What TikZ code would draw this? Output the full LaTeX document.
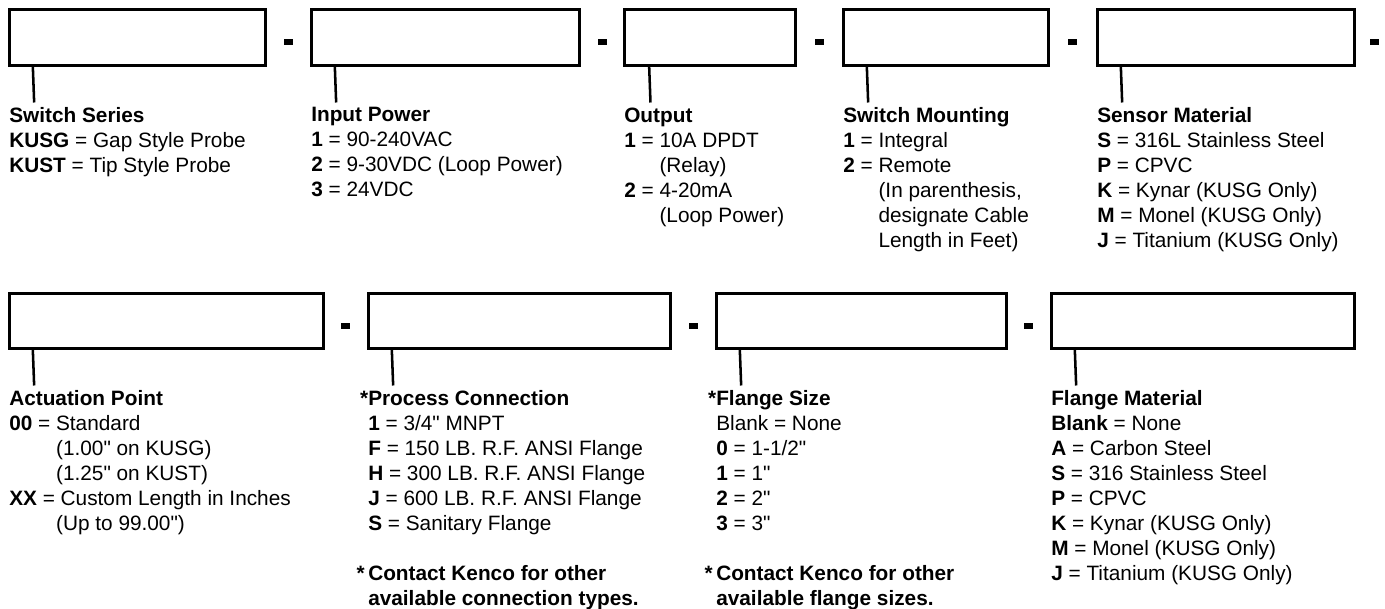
\documentclass[tikz,border=0pt]{standalone}
\usepackage{fontspec}
\setmainfont{Liberation Sans}
\newcommand{\keyskip}[1]{\phantom{\textbf{#1} = }}
\newcommand{\inch}{\textquotedbl}

\begin{document}
\begin{tikzpicture}[x=0.75pt, y=-0.75pt,
  every node/.style={font=\fontsize{15.6}{18.75}\selectfont},
  field/.style={draw, line width=2.25pt, inner sep=0pt, minimum height=41.5pt},
  sep/.style={fill=black, inner sep=0pt, minimum width=6.75pt, minimum height=5pt},
  legend/.style={anchor=north west, align=left, inner sep=0pt},
  lead/.style={line width=1.9pt, shorten >=3.6pt}]
  \useasboundingbox (0,0) rectangle (1385,609);
  \filldraw[fill=white, draw=none] (0,0) rectangle (1385,609);
  \node[field, minimum width=192pt] (series) at (137,37.5) {};
  \node[field, minimum width=201pt] (power) at (445,37.5) {};
  \node[field, minimum width=128.25pt] (output) at (709.5,37.5) {};
  \node[field, minimum width=153.75pt] (mounting) at (945.5,37.5) {};
  \node[field, minimum width=192.75pt] (sensor) at (1225.5,37.5) {};
  \node[sep] (sepA) at (288,42) {};
  \node[sep] (sepB) at (602,42) {};
  \node[sep] (sepC) at (819,42) {};
  \node[sep] (sepD) at (1072,42) {};
  \node[sep] (sepE) at (1374,42) {};
  \node[field, minimum width=235.5pt] (actuation) at (166,321) {};
  \node[field, minimum width=226.5pt] (process) at (519,321) {};
  \node[field, minimum width=217.5pt] (flsize) at (861,321) {};
  \node[field, minimum width=227.25pt] (flmat) at (1202.5,321) {};
  \node[sep] (sepF) at (345,326) {};
  \node[sep] (sepG) at (693,326) {};
  \node[sep] (sepH) at (1028,326) {};
  % legends, first row
  \node[legend] (seriestxt) at (9,107.3) {\textbf{Switch Series}\\ \textbf{KUSG} = Gap Style Probe\\ \textbf{KUST} = Tip Style Probe};
  \node[legend] (powertxt) at (311,107.3) {\textbf{Input Power}\\ \textbf{1} = 90-240VAC\\ \textbf{2} = 9-30VDC (Loop Power)\\ \textbf{3} = 24VDC};
  \node[legend] (outputtxt) at (624,107.3) {\textbf{Output}\\ \textbf{1} = 10A DPDT\\ \keyskip{1}(Relay)\\ \textbf{2} = 4-20mA\\ \keyskip{2}(Loop Power)};
  \node[legend] (mountingtxt) at (843,107.3) {\textbf{Switch Mounting}\\ \textbf{1} = Integral\\ \textbf{2} = Remote\\ \keyskip{2}(In parenthesis,\\ \keyskip{2}designate Cable\\ \keyskip{2}Length in Feet)};
  \node[legend] (sensortxt) at (1097,107.3) {\textbf{Sensor Material}\\ \textbf{S} = 316L Stainless Steel\\ \textbf{P} = CPVC\\ \textbf{K} = Kynar (KUSG Only)\\ \textbf{M} = Monel (KUSG Only)\\ \textbf{J} = Titanium (KUSG Only)};
  % legends, second row
  \node[legend] (actuationtxt) at (9,390.3) {\textbf{Actuation Point}\\ \textbf{00} = Standard\\ \keyskip{00}(1.00\inch{} on KUSG)\\ \keyskip{00}(1.25\inch{} on KUST)\\ \textbf{XX} = Custom Length in Inches\\ \keyskip{00}(Up to 99.00\inch)};
  \node[legend] (processtxt) at (368,390.3) {\textbf{\llap{*}Process Connection}\\ \textbf{1} = 3/4\inch{} MNPT\\ \textbf{F} = 150 LB. R.F. ANSI Flange\\ \textbf{H} = 300 LB. R.F. ANSI Flange\\ \textbf{J} = 600 LB. R.F. ANSI Flange\\ \textbf{S} = Sanitary Flange\\[18.75pt] \textbf{\llap{*\,}Contact Kenco for other}\\ \textbf{available connection types.}};
  \node[legend] (flsizetxt) at (716,390.3) {\textbf{\llap{*}Flange Size}\\ Blank = None\\ \textbf{0} = 1-1/2\inch\\ \textbf{1} = 1\inch\\ \textbf{2} = 2\inch\\ \textbf{3} = 3\inch\\[18.75pt] \textbf{\llap{*\,}Contact Kenco for other}\\ \textbf{available flange sizes.}};
  \node[legend] (flmattxt) at (1051,390.3) {\textbf{Flange Material}\\ \textbf{Blank} = None\\ \textbf{A} = Carbon Steel\\ \textbf{S} = 316 Stainless Steel\\ \textbf{P} = CPVC\\ \textbf{K} = Kynar (KUSG Only)\\ \textbf{M} = Monel (KUSG Only)\\ \textbf{J} = Titanium (KUSG Only)};
  % leader lines
  \draw[lead] ([xshift=19pt]series.south west) -- ([xshift=19pt]seriestxt.north west);
  \draw[lead] ([xshift=19pt]power.south west) -- ([xshift=19pt]powertxt.north west);
  \draw[lead] ([xshift=20pt]output.south west) -- ([xshift=20pt]outputtxt.north west);
  \draw[lead] ([xshift=19pt]mounting.south west) -- ([xshift=19pt]mountingtxt.north west);
  \draw[lead] ([xshift=19pt]sensor.south west) -- ([xshift=19pt]sensortxt.north west);
  \draw[lead] ([xshift=19pt]actuation.south west) -- ([xshift=19pt]actuationtxt.north west);
  \draw[lead] ([xshift=19pt]process.south west) -- ([xshift=19pt]processtxt.north west);
  \draw[lead] ([xshift=19pt]flsize.south west) -- ([xshift=19pt]flsizetxt.north west);
  \draw[lead] ([xshift=19pt]flmat.south west) -- ([xshift=19pt]flmattxt.north west);
\end{tikzpicture}
\end{document}
